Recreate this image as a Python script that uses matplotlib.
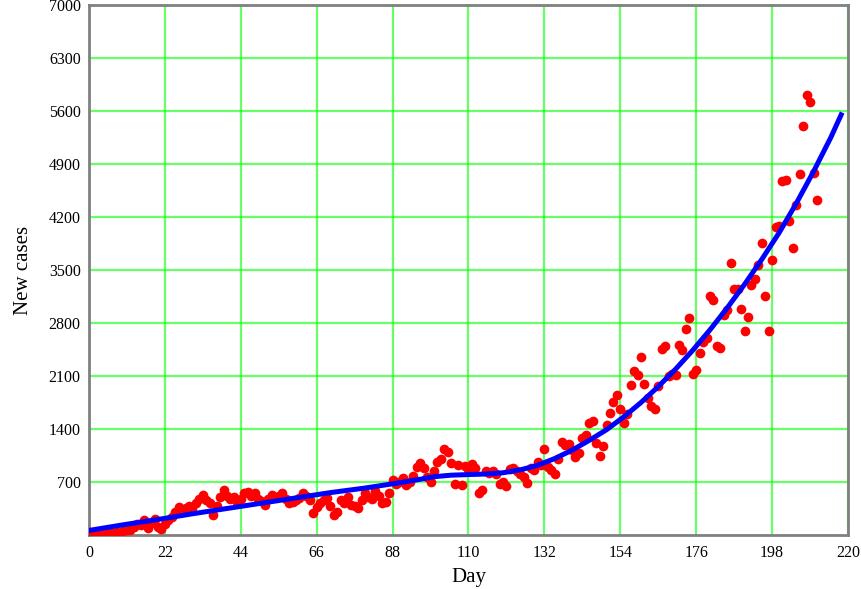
import numpy as np
import matplotlib
matplotlib.use("Agg")
import matplotlib.pyplot as plt

plt.rcParams['font.family'] = ['Liberation Serif', 'DejaVu Serif']

# daily new cases (red dots), day 0..211
cases = [
    5, 10, 0, 15, 20, 10, 30, 25, 40, 30,
    55, 70, 60, 110, 150, 130, 200, 90, 160, 215,
    110, 80, 150, 200, 240, 310, 370, 330, 350, 380,
    360, 420, 480, 530, 460, 420, 265, 380, 500, 600,
    520, 480, 500, 440, 480, 560, 570, 520, 560, 480,
    450, 400, 470, 530, 500, 520, 550, 470, 420, 440,
    460, 490, 560, 510, 460, 290, 370, 420, 460, 490,
    380, 270, 300, 460, 420, 500, 400, 380, 350, 460,
    550, 500, 470, 580, 520, 420, 440, 550, 720, 680,
    700, 750, 660, 700, 780, 900, 950, 880, 760, 700,
    850, 970, 1010, 1130, 1100, 950, 680, 920, 660, 910,
    870, 940, 880, 560, 590, 840, 820, 850, 800, 680,
    700, 650, 870, 890, 850, 800, 770, 690, 880, 860,
    960, 920, 1130, 900, 860, 810, 1000, 1230, 1190, 1200,
    1120, 1030, 1080, 1280, 1320, 1480, 1510, 1220, 1040, 1180,
    1450, 1610, 1750, 1850, 1660, 1480, 1600, 1980, 2160, 2110,
    2350, 1990, 1810, 1700, 1670, 1970, 2450, 2490, 2100, 2120,
    2110, 2510, 2440, 2720, 2860, 2120, 2180, 2410, 2550, 2600,
    3150, 3100, 2500, 2470, 2910, 2970, 3590, 3250, 3250, 2980,
    2700, 2880, 3300, 3380, 3570, 3860, 3150, 2700, 3630, 4070,
    4080, 4670, 4690, 4150, 3790, 4360, 4770, 5400, 5810, 5720,
    4780, 4420,
]
days = list(range(len(cases)))

# fitted curve (blue), read at sample days
fit_days = [0, 10, 20, 30, 40, 50, 60, 70, 80, 90, 96, 100, 105, 110, 115,
            120, 125, 130, 135, 140, 145, 150, 155, 160, 165, 170, 175, 180,
            185, 190, 195, 200, 205, 210, 215, 218]
fit_vals = [60, 135, 205, 280, 350, 420, 490, 560, 620, 690, 736, 770, 790,
            798, 805, 822, 860, 920, 1010, 1120, 1250, 1390, 1560, 1750, 1960,
            2190, 2440, 2710, 3000, 3310, 3640, 3990, 4380, 4800, 5250, 5550]

xticks = list(range(0, 221, 22))
yticks = list(range(700, 7001, 700))

fig = plt.figure(figsize=(8.62, 5.89), dpi=100)
ax = fig.add_axes([0.1032, 0.0917, 0.8806, 0.8998])

ax.plot(days, cases, 'o', color='#ff0000', markersize=7, markeredgewidth=0, zorder=3)
ax.plot(fit_days, fit_vals, '-', color='#0000ff', linewidth=3.6,
        solid_joinstyle='round', zorder=4)

ax.set_xlim(0, 220)
ax.set_ylim(0, 7000)
ax.set_xticks(xticks)
ax.set_yticks(yticks)
ax.tick_params(length=0, labelsize=11.5, colors='black')
ax.tick_params(axis='x', pad=7)
ax.tick_params(axis='y', pad=6)
ax.grid(True, color='#00ff00', alpha=0.6, linewidth=1.6, zorder=0)
ax.set_axisbelow(True)

for s in ax.spines.values():
    s.set_color('#808080')
    s.set_linewidth(2)

ax.set_xlabel('Day', fontsize=15, labelpad=5)
ax.set_ylabel('New cases', fontsize=15, labelpad=11)

fig.savefig('out.png', dpi=100)
